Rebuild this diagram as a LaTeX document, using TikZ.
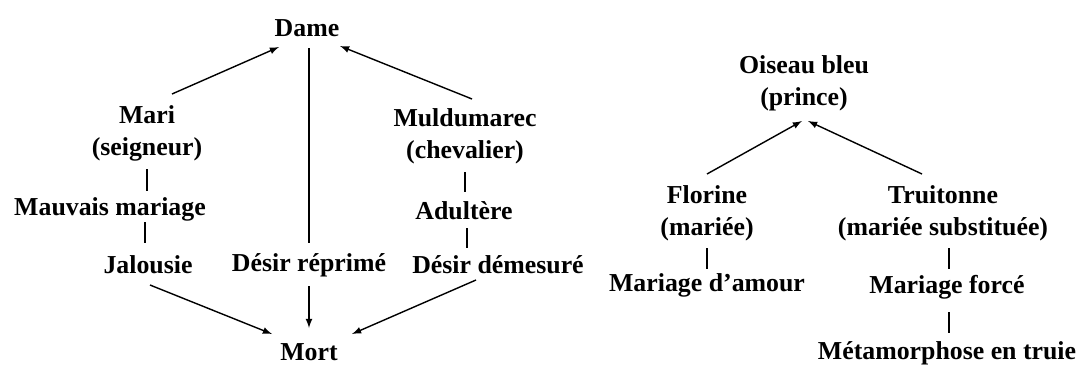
\documentclass[tikz,border=0pt]{standalone}
\usepackage{fontspec}
\setmainfont{Liberation Serif}
\usepackage{tikz}
\usetikzlibrary{arrows}

\tikzset{
	txt/.style={inner sep=0pt, outer sep=0pt, align=center,
		font=\fontsize{14.7}{18.2}\selectfont\bfseries},
	lnk/.style={line width=0.8pt},
	arr/.style={lnk, -latex}
}

\begin{document}
\begin{tikzpicture}[x=0.02cm, y=-0.02cm]
 			\useasboundingbox (0,0) rectangle (1079,365);
 			%% Left tree
 			\node[txt] (dame) at (307,28) {Dame};
 			\node[txt] (mari) at (147,133) {Mari\\(seigneur)};
 			\node[txt] (mauvais) at (110,209) {Mauvais mariage};
 			\node[txt] (jalousie) at (148,265) {Jalousie};
 			\node[txt] (reprime) at (309,265) {Désir réprimé};
 			\node[txt] (muldu) at (465,136) {Muldumarec\\(chevalier)};
 			\node[txt] (adultere) at (464,211) {Adultère};
 			\node[txt] (demesure) at (498,265) {Désir démesuré};
 			\node[txt] (mort) at (309,352) {Mort};
 			\draw[arr] ([shift={(25,-39)}]mari.center) 
 				-- ([shift={(-28,19)}]dame.center);
 			\draw[arr] ([shift={(7,-37)}]muldu.center) 
 				-- ([shift={(33,18)}]dame.center);
 			\draw[lnk] ([shift={(2,20)}]dame.center) 
 				-- ([shift={(0,-22)}]reprime.center);
 			\draw[lnk] ([shift={(0,36)}]mari.center) 
 				-- ([shift={(37,-18)}]mauvais.center);
 			\draw[lnk] ([shift={(35,13)}]mauvais.center) 
 				-- ([shift={(-3,-22)}]jalousie.center);
 			\draw[lnk] ([shift={(0,36)}]muldu.center) 
 				-- ([shift={(1,-19)}]adultere.center);
 			\draw[lnk] ([shift={(3,17)}]adultere.center) 
 				-- ([shift={(-31,-17)}]demesure.center);
 			\draw[arr] ([shift={(2,20)}]jalousie.center) 
 				-- ([shift={(-37,-18)}]mort.center);
 			\draw[arr] ([shift={(0,21)}]reprime.center) 
 				-- ([shift={(0,-24)}]mort.center);
 			\draw[arr] ([shift={(-22,15)}]demesure.center) 
 				-- ([shift={(43,-18)}]mort.center);
 			%% Right tree
 			\node[txt] (oiseau) at (804,83) {Oiseau bleu\\(prince)};
 			\node[txt] (florine) at (707,213) {Florine\\(mariée)};
 			\node[txt] (truitonne) at (943,213) {Truitonne\\(mariée substituée)};
 			\node[txt] (amour) at (707,285) {Mariage d’amour};
 			\node[txt] (force) at (947,287) {Mariage forcé};
 			\node[txt] (metamorph) at (947,353) {Métamorphose en truie};
 			\draw[arr] ([shift={(0,-39)}]florine.center) 
 				-- ([shift={(-2,38)}]oiseau.center);
 			\draw[arr] ([shift={(-21,-39)}]truitonne.center) 
 				-- ([shift={(4,38)}]oiseau.center);
 			\draw[lnk] ([shift={(0,35)}]florine.center) 
 				-- ([shift={(0,-16)}]amour.center);
 			\draw[lnk] ([shift={(6,35)}]truitonne.center) 
 				-- ([shift={(2,-18)}]force.center);
 			\draw[lnk] ([shift={(2,25)}]force.center) 
 				-- ([shift={(2,-20)}]metamorph.center);
 		\end{tikzpicture}
\end{document}
